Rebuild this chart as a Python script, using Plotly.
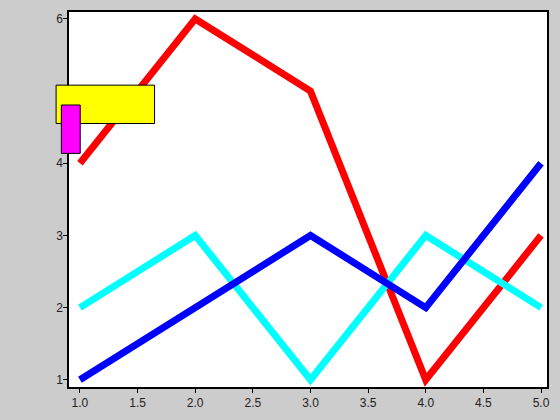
import plotly.graph_objects as go

x_vals = [1, 2, 3, 4, 5]
red_vals = [4, 6, 5, 1, 3]
cyan_vals = [2, 3, 1, 3, 2]
blue_vals = [1, 2, 3, 2, 4]
y_ticks = [1, 2, 3, 4, 5, 6]
x_ticks = [1.0, 1.5, 2.0, 2.5, 3.0, 3.5, 4.0, 4.5, 5.0]

fig = go.Figure()
for vals, col in [(red_vals, "#ff0000"), (cyan_vals, "#00ffff"), (blue_vals, "#0000ff")]:
    fig.add_trace(go.Scatter(x=x_vals, y=vals, mode="lines",
                             line=dict(color=col, width=7), showlegend=False,
                             hoverinfo="skip"))

axis_common = dict(showline=True, linecolor="black", linewidth=1.5, mirror=True,
                   ticks="outside", ticklen=4, tickcolor="black", tickwidth=1,
                   showgrid=False, zeroline=False,
                   tickfont=dict(family="Liberation Sans, Arial, sans-serif", size=12, color="#222222"))

fig.update_layout(
    width=560, height=420,
    margin=dict(l=69, r=10, t=10, b=30),
    paper_bgcolor="#cccccc", plot_bgcolor="white",
    xaxis=dict(range=[0.905, 5.052], tickvals=x_ticks,
               ticktext=[f"{v:.1f}" for v in x_ticks], **axis_common),
    yaxis=dict(range=[0.90, 6.096], tickvals=y_ticks, ticklabelstandoff=-2,
               ticktext=[str(v) for v in y_ticks], **axis_common),
    shapes=[
        dict(type="rect", xref="paper", yref="paper", layer="above",
             x0=-0.027, x1=0.179, y0=0.7026, y1=0.805,
             fillcolor="#ffff00", line=dict(color="black", width=1)),
        dict(type="rect", xref="paper", yref="paper", layer="above",
             x0=-0.016, x1=0.0235, y0=0.623, y1=0.752,
             fillcolor="#ff00ff", line=dict(color="black", width=1)),
    ],
)

fig.write_html(
    "out.html",
    config={"displayModeBar": False},
    post_script="document.body.style.margin='0';document.body.style.background='#cccccc';document.body.style.overflow='hidden';",
)
